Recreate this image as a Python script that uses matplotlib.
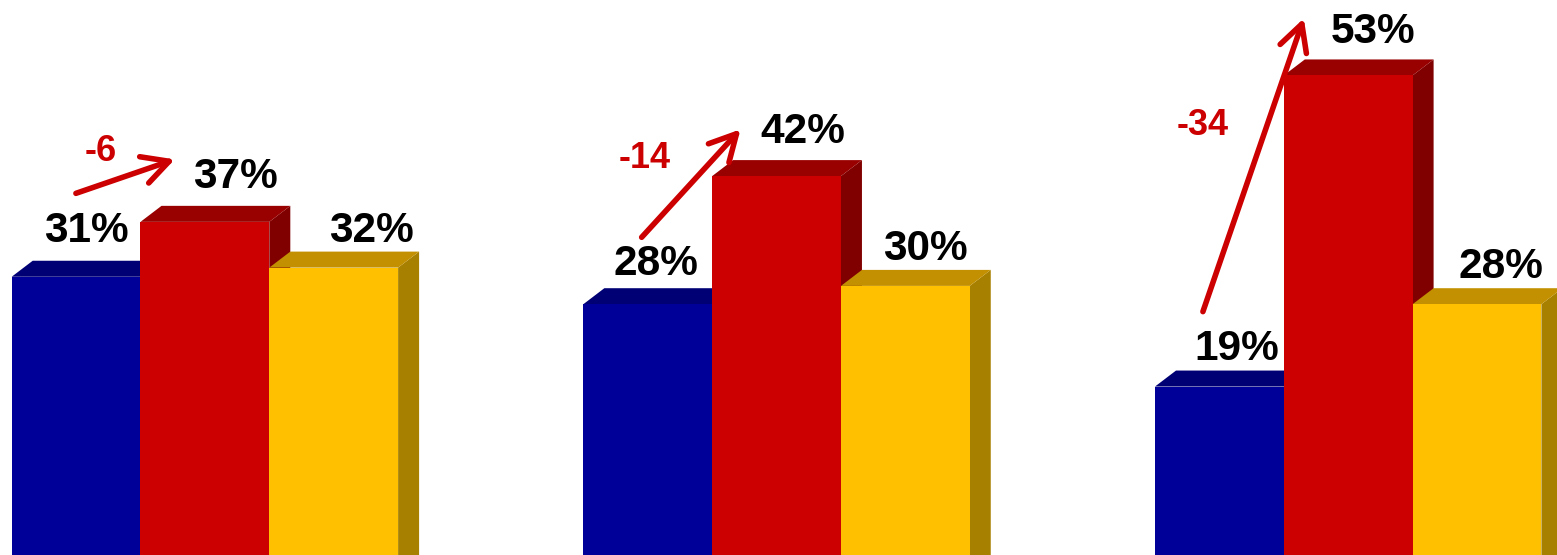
import matplotlib
matplotlib.use("Agg")
import matplotlib.pyplot as plt
from matplotlib.patches import Polygon, FancyArrowPatch

plt.rcParams['font.family'] = ['Liberation Sans', 'DejaVu Sans']

# data
series = ["blue", "red", "yellow"]
blue_vals = [31, 28, 19]
red_vals = [37, 42, 53]
yellow_vals = [32, 30, 28]
diffs = [b - r for b, r in zip(blue_vals, red_vals)]   # -6, -14, -34

# colours: front, top, side
front_cols = ["#000099", "#CC0000", "#FFC000"]
top_cols = ["#000075", "#990000", "#C29000"]
side_cols = ["#00005E", "#800000", "#A88000"]

# layout (x in pixels, y in percent)
px = 1 / 9.15            # percent per pixel vertically
bar_w = 128.8
group_x0 = 11.7
group_step = 571.65
depth_x = 21
depth_y = 16 * px
y_lo, y_hi = 5.4 * px, 560.4 * px

# label nudges per group, per series: (x offset from bar centre, gap above front top in px)
label_nudge = [
    [(10.5, 35), (31, 33.8), (38, 25.9)],
    [(8, 29.2), (26.7, 32.8), (20.5, 25.9)],
    [(17.2, 26.6), (25, 32.7), (23.5, 26.2)],
]
# arrow tail relative to blue bar centre/top, tip relative to red bar left/top (px)
arrow_tail = [(-0.2, 83.4), (-6.1, 66.9), (-16.5, 74.9)]
arrow_tip = [(34.3, 62.5), (28.4, 46.8), (20, 57.1)]
diff_pos = [(24.8, 125), (-3.5, 145.4), (-16.5, 260.6)]

fig = plt.figure(figsize=(15.57, 5.55), dpi=100)
ax = fig.add_axes([0, 0, 1, 1])
ax.set_xlim(0, 1557)
ax.set_ylim(y_lo, y_hi)
ax.axis("off")

base = y_lo - 5
for g in range(3):
    vals = [blue_vals[g], red_vals[g], yellow_vals[g]]
    for s in range(3):
        x = group_x0 + g * group_step + s * bar_w
        v = vals[s]
        front = Polygon([(x, base), (x + bar_w, base), (x + bar_w, v), (x, v)],
                        closed=True, fc=front_cols[s], ec="none")
        top = Polygon([(x, v), (x + bar_w, v), (x + bar_w + depth_x, v + depth_y),
                       (x + depth_x, v + depth_y)], closed=True, fc=top_cols[s], ec="none")
        side = Polygon([(x + bar_w, base), (x + bar_w, v), (x + bar_w + depth_x, v + depth_y),
                        (x + bar_w + depth_x, base)], closed=True, fc=side_cols[s], ec="none")
        ax.add_patch(side)
        ax.add_patch(top)
        ax.add_patch(front)
        nx, ny = label_nudge[g][s]
        ax.text(x + bar_w / 2 + nx, v + ny * px, f"{v}%", ha="center", va="baseline",
                fontsize=30.5, fontweight="bold", color="black", zorder=5)

    bx = group_x0 + g * group_step
    rx = bx + bar_w
    tx, ty = arrow_tail[g]
    hx, hy = arrow_tip[g]
    arr = FancyArrowPatch((bx + bar_w / 2 + tx, blue_vals[g] + ty * px),
                          (rx + hx, red_vals[g] + hy * px),
                          arrowstyle="->,head_length=0.95,head_width=0.5",
                          mutation_scale=20, lw=4, color="#CC0000",
                          shrinkA=0, shrinkB=0, zorder=6)
    ax.add_patch(arr)
    dx_, dy_ = diff_pos[g]
    ax.text(bx + bar_w / 2 + dx_, blue_vals[g] + dy_ * px, f"{diffs[g]}", ha="center",
            va="center", fontsize=26, fontweight="bold", color="#CC0000", zorder=6)

fig.savefig("out.png", dpi=100)
